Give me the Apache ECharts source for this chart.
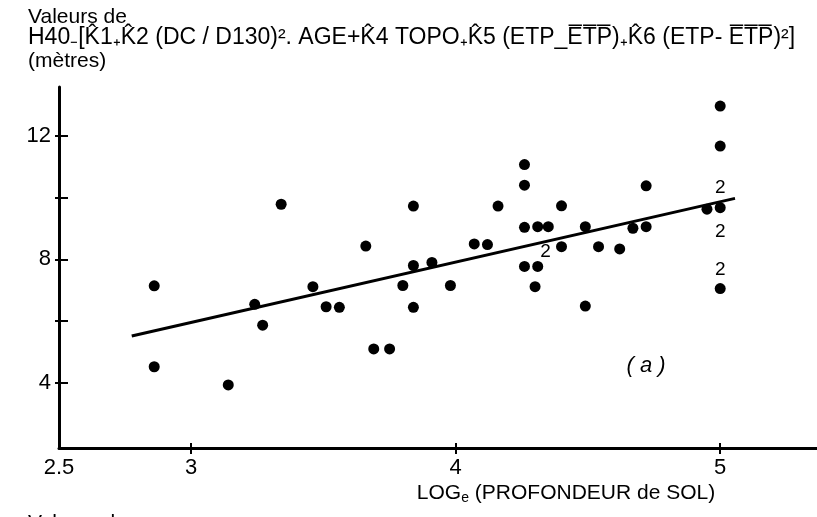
<!DOCTYPE html>
<html>
<head>
<meta charset="utf-8">
<script src="https://cdn.jsdelivr.net/npm/echarts@6/dist/echarts.min.js"></script>
<style>
html,body{margin:0;padding:0;background:#fff;}
#chart{width:817px;height:517px;}
</style>
</head>
<body>
<div id="chart"></div>
<script>
// log_e(profondeur de sol)
const soilLog = [2.86, 2.86, 3.14, 3.24, 3.27, 3.34, 3.46, 3.51, 3.56, 3.66,
  3.69, 3.75, 3.80, 3.84, 3.84, 3.84, 3.91, 3.98, 4.07, 4.12,
  4.16, 4.26, 4.26, 4.26, 4.31, 4.35, 4.26, 4.31, 4.30, 4.40,
  4.40, 4.49, 4.49, 4.54, 4.62, 4.67, 4.72, 4.72, 4.95, 5.00,
  5.00, 5.00, 5.00];
// valeurs (mètres)
const heightVal = [7.14, 4.51, 3.92, 6.54, 5.86, 9.79, 7.11, 6.46, 6.44, 8.43,
  5.09, 5.09, 7.15, 9.73, 7.80, 6.44, 7.90, 7.15, 8.50, 8.48,
  9.73, 11.08, 10.41, 9.04, 9.06, 9.06, 7.77, 7.77, 7.11, 9.74,
  8.41, 9.06, 6.48, 8.41, 8.34, 9.01, 9.06, 10.39, 9.63, 9.68,
  11.68, 12.98, 7.05];
// points doubles (marqués "2")
const dupX = [4.34, 5.00, 5.00, 5.00];
const dupY = [8.24, 10.34, 8.89, 7.66];
const dupLabel = ['2', '2', '2', '2'];
// droite de régression
const fitX = [2.775, 5.056];
const fitY = [5.51, 9.98];
// axes
const xTicks = [3, 4, 5];
const xLabels = [2.5, 3, 4, 5];
const yTicks = [4, 6, 8, 10, 12];
const yLabels = [4, 8, 12];

const FONT = '"Liberation Sans", Arial, Helvetica, sans-serif';
const chart = echarts.init(document.getElementById('chart'), null, {renderer: 'canvas'});

const xBase = {
  type: 'value', min: 2.5, max: 5.366, gridIndex: 0,
  splitLine: {show: false}
};
const yBase = {
  type: 'value', min: 1.87, max: 13.6, gridIndex: 0,
  splitLine: {show: false}
};

chart.setOption({
  animation: false,
  backgroundColor: '#ffffff',
  grid: {left: 59, right: 0, top: 87, bottom: 69, containLabel: false},
  xAxis: [
    Object.assign({}, xBase, {
      position: 'bottom',
      axisLine: {show: true, onZero: false, lineStyle: {color: '#000', width: 3}},
      axisTick: {show: true, inside: false, length: 6, lineStyle: {color: '#000', width: 2}, customValues: xTicks},
      axisLabel: {show: true, margin: 9, color: '#000', fontSize: 22, fontFamily: FONT, customValues: xLabels,
        formatter: v => String(v)}
    }),
    Object.assign({}, xBase, {
      position: 'bottom',
      axisLine: {show: false},
      axisTick: {show: true, inside: true, length: 5, lineStyle: {color: '#000', width: 2}, customValues: xTicks},
      axisLabel: {show: false}
    })
  ],
  yAxis: [
    Object.assign({}, yBase, {
      position: 'left',
      axisLine: {show: true, onZero: false, lineStyle: {color: '#000', width: 3}},
      axisTick: {show: true, inside: false, length: 4, lineStyle: {color: '#000', width: 2}, customValues: yTicks},
      axisLabel: {show: true, margin: 8, color: '#000', fontSize: 22, fontFamily: FONT, customValues: yLabels,
        formatter: v => String(v)}
    }),
    Object.assign({}, yBase, {
      position: 'left',
      axisLine: {show: false},
      axisTick: {show: true, inside: true, length: 9, lineStyle: {color: '#000', width: 2}, customValues: yTicks},
      axisLabel: {show: false}
    })
  ],
  series: [
    {
      type: 'line', xAxisIndex: 0, yAxisIndex: 0,
      data: fitX.map((x, i) => [x, fitY[i]]),
      symbol: 'none', lineStyle: {color: '#000', width: 3}, z: 2
    },
    {
      type: 'scatter', xAxisIndex: 0, yAxisIndex: 0,
      data: soilLog.map((x, i) => [x, heightVal[i]]),
      symbol: 'circle', symbolSize: 11,
      itemStyle: {color: '#000', opacity: 1}, z: 3
    },
    {
      type: 'scatter', xAxisIndex: 0, yAxisIndex: 0,
      data: dupX.map((x, i) => ({value: [x, dupY[i]], name: dupLabel[i]})),
      symbolSize: 0, itemStyle: {color: '#000'},
      label: {show: true, position: 'inside', formatter: p => p.name, opacity: 1,
        color: '#000', fontSize: 19, fontFamily: FONT, textBorderWidth: 0}, z: 4
    }
  ],
  graphic: [
    {type: 'text', x: 28, y: 17, style: {text: 'Valeurs de', font: '21px ' + FONT, fill: '#000',
      textAlign: 'left', textVerticalAlign: 'middle', align: 'left', verticalAlign: 'middle'}},
    {type: 'text', x: 28, y: 38, style: {
      text: 'H40\u208B[K\u03021\u208AK\u03022 (DC / D130)\u00B2. AGE+K\u03024 TOPO\u208AK\u03025 (ETP_E\u0305T\u0305P\u0305)\u208AK\u03026 (ETP- E\u0305T\u0305P\u0305)\u00B2]',
      font: '23px ' + FONT, fill: '#000',
      textAlign: 'left', textVerticalAlign: 'middle', align: 'left', verticalAlign: 'middle'}},
    {type: 'text', x: 28, y: 61, style: {text: '(mètres)', font: '21px ' + FONT, fill: '#000',
      textAlign: 'left', textVerticalAlign: 'middle', align: 'left', verticalAlign: 'middle'}},
    {type: 'text', x: 646, y: 366, style: {text: '( a )', font: 'italic 22px ' + FONT, fill: '#000',
      textAlign: 'center', textVerticalAlign: 'middle', align: 'center', verticalAlign: 'middle'}},
    {type: 'text', x: 566, y: 493, style: {
      text: '{a|LOG}{s|e}{a| (PROFONDEUR de SOL)}',
      rich: {a: {fontSize: 21, fontFamily: FONT, fill: '#000', color: '#000'},
             s: {fontSize: 14, fontFamily: FONT, fill: '#000', color: '#000', padding: [10, 0, 0, 0]}},
      fill: '#000',
      textAlign: 'center', textVerticalAlign: 'middle', align: 'center', verticalAlign: 'middle'}},
    {type: 'text', x: 28, y: 513, style: {text: 'Valeurs de', font: '21px ' + FONT, fill: '#000',
      textAlign: 'left', textVerticalAlign: 'top', align: 'left', verticalAlign: 'top'}}
  ]
});
</script>
</body>
</html>
